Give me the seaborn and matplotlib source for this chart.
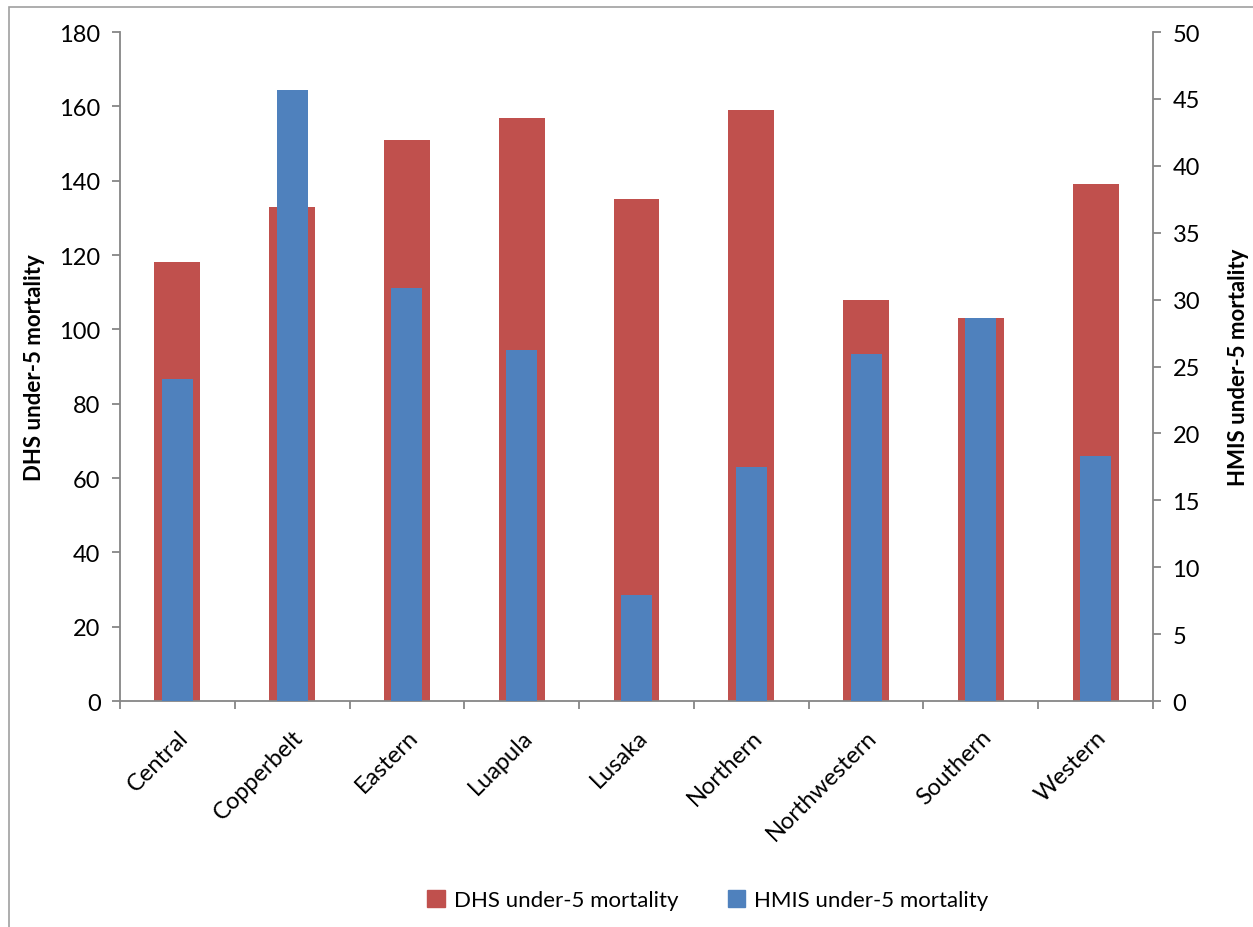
import matplotlib
matplotlib.use("Agg")
import matplotlib.pyplot as plt
import matplotlib.patches as mpatches
from matplotlib.ticker import MultipleLocator, FixedLocator
import seaborn as sns
import pandas as pd

regions = ["Central", "Copperbelt", "Eastern", "Luapula", "Lusaka",
           "Northern", "Northwestern", "Southern", "Western"]
dhs_u5 = [118, 133, 151, 157, 135, 159, 108, 103, 139]
hmis_u5 = [24.1, 45.7, 30.9, 26.2, 7.9, 17.5, 25.9, 28.6, 18.3]

RED = "#C0504D"
BLUE = "#4F81BD"
GREY = "#868686"

sns.set_style("white")
plt.rcParams["font.family"] = ["Lato", "DejaVu Sans"]
plt.rcParams["text.color"] = "black"
plt.rcParams["xtick.labelcolor"] = "black"
plt.rcParams["ytick.labelcolor"] = "black"
plt.rcParams["axes.labelcolor"] = "black"

df = pd.DataFrame({"region": regions, "dhs": dhs_u5, "hmis": hmis_u5})

fig = plt.figure(figsize=(12.53, 9.28), dpi=100)
ax = fig.add_axes([0.0958, 0.2435, 0.8244, 0.7209])
ax2 = ax.twinx()

sns.barplot(data=df, x="region", y="dhs", color=RED, width=0.4,
            saturation=1, linewidth=0, ax=ax)
sns.barplot(data=df, x="region", y="hmis", color=BLUE, width=0.27,
            saturation=1, linewidth=0, ax=ax2)

ax.set_xlim(-0.5, len(regions) - 0.5)
ax.set_ylim(0, 180)
ax2.set_ylim(0, 50)
ax.yaxis.set_major_locator(MultipleLocator(20))
ax2.yaxis.set_major_locator(MultipleLocator(5))

for a in (ax, ax2):
    a.spines["top"].set_visible(False)
    for s in ("bottom", "left", "right"):
        a.spines[s].set_color(GREY)
        a.spines[s].set_linewidth(1.3)
ax.spines["right"].set_visible(False)
ax2.spines["left"].set_visible(False)
ax2.spines["bottom"].set_visible(False)

ax.tick_params(axis="y", direction="out", length=6, color=GREY, width=1.3,
               labelsize=17, pad=8, left=True)
ax2.tick_params(axis="y", direction="out", length=6, color=GREY, width=1.3,
                labelsize=17, pad=8, right=True)

ax.set_xticks(range(len(regions)))
ax.set_xticklabels(regions, rotation=45, ha="right", rotation_mode="anchor")
ax.xaxis.set_minor_locator(FixedLocator([i - 0.5 for i in range(len(regions) + 1)]))
ax.tick_params(axis="x", which="major", length=0, labelsize=17, pad=18,
               bottom=True, labelbottom=True)
ax.tick_params(axis="x", which="minor", direction="out", length=6,
               color=GREY, width=1.3, bottom=True)
ax2.xaxis.set_visible(False)

ax.set_xlabel("")
ax.set_ylabel("DHS under-5 mortality", fontsize=16, fontweight="bold", labelpad=10)
ax2.set_ylabel("HMIS under-5 mortality", fontsize=16, fontweight="bold", labelpad=20)

handles = [mpatches.Patch(color=RED, label="DHS under-5 mortality"),
           mpatches.Patch(color=BLUE, label="HMIS under-5 mortality")]
fig.legend(handles=handles, loc="center", bbox_to_anchor=(0.565, 0.029),
           ncol=2, frameon=False, fontsize=16, handlelength=0.8,
           handleheight=0.8, handletextpad=0.4, columnspacing=2.2)

fig.patches.append(mpatches.Rectangle((9 / 1253, -0.05), 1.2, 1 - 8 / 928 + 0.05,
                                      transform=fig.transFigure, fill=False,
                                      edgecolor="#A0A0A0", linewidth=1.2))

fig.savefig("out.png", dpi=100)
